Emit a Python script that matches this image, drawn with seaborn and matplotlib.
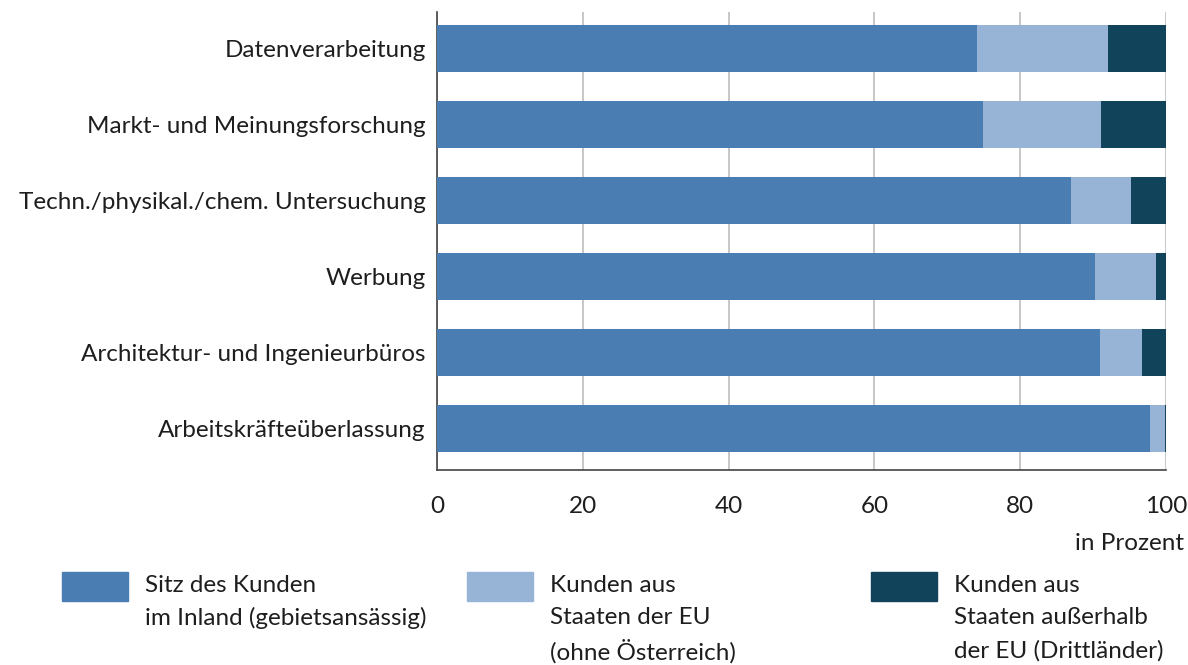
import numpy as np
import pandas as pd
import matplotlib
matplotlib.use("Agg")
import matplotlib.pyplot as plt
import seaborn as sns
from matplotlib.patches import Rectangle

# Daten (Anteile in Prozent)
branchen = ['Datenverarbeitung', 'Markt- und Meinungsforschung',
            'Techn./physikal./chem. Untersuchung', 'Werbung',
            'Architektur- und Ingenieurbüros', 'Arbeitskräfteüberlassung']
inland = [74.1, 74.9, 87.0, 90.3, 90.9, 97.8]
eu = [17.9, 16.2, 8.2, 8.3, 5.8, 2.0]
drittland = [8.0, 8.9, 4.8, 1.4, 3.3, 0.2]

legend_labels = [['Sitz des Kunden', 'im Inland (gebietsansässig)'],
                 ['Kunden aus', 'Staaten der EU', '(ohne Österreich)'],
                 ['Kunden aus', 'Staaten außerhalb', 'der EU (Drittländer)']]
colors = ['#4a7db2', '#97b4d7', '#11435a']
x_ticks = [0, 20, 40, 60, 80, 100]

sns.set_style('white')
plt.rcParams['font.family'] = ['Lato', 'DejaVu Sans']
FS = 17.5
TXT = '#1e1e1e'

df = pd.DataFrame({'Branche': branchen, 'Inland': inland,
                   'EU': eu, 'Dritt': drittland})
df['c1'] = df['Inland']
df['c2'] = df['Inland'] + df['EU']
df['c3'] = df['c2'] + df['Dritt']

fig = plt.figure(figsize=(11.88, 6.65), dpi=100)
ax = fig.add_axes([437 / 1188, 1 - 470 / 665, (1166 - 437) / 1188, (470 - 12) / 665])

# gestapelt: von hinten nach vorne zeichnen
for col, c in zip(['c3', 'c2', 'c1'], colors[::-1]):
    sns.barplot(data=df, x=col, y='Branche', color=c, width=0.62,
                saturation=1, orient='h', ax=ax, zorder=3, linewidth=0)

ax.set_xlim(0, 100)
ax.set_ylim(5.546, -0.48)
ax.set_xticks(x_ticks)
ax.set_xticklabels([str(t) for t in x_ticks], fontsize=FS, color=TXT)
ax.tick_params(axis='x', direction='out', length=15, width=1.2, color='#444444', pad=4)
ax.tick_params(axis='y', length=0, pad=8, labelsize=FS, labelcolor=TXT)
ax.set_xlabel('')
ax.set_ylabel('')
ax.grid(axis='x', color='#bdbdbd', linewidth=1.2, zorder=0)
ax.set_axisbelow(True)
for s in ['top', 'right']:
    ax.spines[s].set_visible(False)
for s in ['left', 'bottom']:
    ax.spines[s].set_color('#444444')
    ax.spines[s].set_linewidth(1.2)

fig.text(1184 / 1188, 1 - 543 / 665, 'in Prozent', ha='right', va='center',
         fontsize=FS, color=TXT)

# Legende
patch_x = [62, 467, 871]
line_y = [585, 618, 651]
for px, c, lines in zip(patch_x, colors, legend_labels):
    fig.add_artist(Rectangle((px / 1188, 1 - 601 / 665), 66 / 1188, 29 / 665,
                             transform=fig.transFigure, color=c))
    for ly, txt in zip(line_y, lines):
        fig.text((px + 83) / 1188, 1 - ly / 665, txt, ha='left', va='center',
                 fontsize=FS, color=TXT)

fig.savefig('out.png', dpi=100)
